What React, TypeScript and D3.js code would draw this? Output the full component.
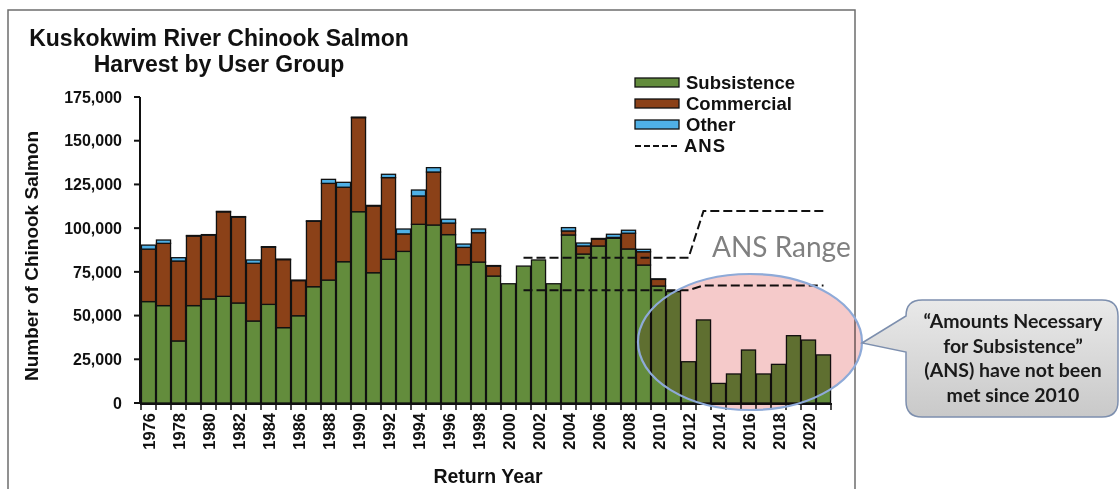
import React from "react";
import * as d3 from "d3";

const years: number[] = d3.range(1976, 2022);
const subsistence: number[] = [
  58000, 55700, 35500, 55700, 59500, 61000, 57200, 46900, 56400, 43100,
  49900, 66500, 70300, 80800, 109400, 74500, 82200, 86700, 102200, 101800,
  96300, 79100, 80600, 72600, 68200, 78300, 81800, 68200, 96100, 85200,
  89800, 94200, 88100, 78900, 66900, 63700, 23600, 47500, 11200, 16600,
  30300, 16600, 22100, 38500, 36000, 27500,
];
const commercial: number[] = [
  30000, 35600, 45700, 39800, 36500, 48300, 49100, 33000, 32700, 38900,
  20100, 37400, 55300, 42600, 53800, 38200, 46700, 10000, 16200, 30300,
  6600, 9900, 16800, 5700, 0, 0, 0, 0, 2300, 4600,
  4000, 500, 9000, 7600, 3800, 0, 0, 0, 0, 0,
  0, 0, 0, 0, 0, 0,
];
const other: number[] = [
  2300, 1900, 1900, 300, 300, 300, 300, 1900, 300, 300,
  300, 300, 2300, 2800, 300, 300, 1900, 2800, 3400, 2500,
  2200, 1900, 2100, 300, 0, 0, 0, 0, 1900, 1700,
  300, 1800, 1700, 1400, 300, 0, 0, 0, 0, 0,
  0, 0, 0, 0, 0, 0,
];
const ansYears: number[] = [2001, 2012, 2013, 2021];
const ansLow: number[] = [64500, 64500, 67200, 67200];
const ansHigh: number[] = [83000, 83000, 109800, 109800];
const yTicks: number[] = [0, 25000, 50000, 75000, 100000, 125000, 150000, 175000];
const seriesNames = ["Subsistence", "Commercial", "Other"];
const seriesColors = ["#638c3c", "#8b4118", "#4fb0e6"];
const calloutLines = ["\u201CAmounts Necessary", "for Subsistence\u201D", "(ANS) have not been", "met since 2010"];

export default function App() {
  const x = d3.scaleBand<number>().domain(years).range([141, 831]).paddingInner(0.06).paddingOuter(0.03);
  const y = d3.scaleLinear().domain([0, 175000]).range([403, 97]);
  const table = years.map((yr, i) => ({ year: yr, Subsistence: subsistence[i], Commercial: commercial[i], Other: other[i] }));
  const stack = d3.stack<any>().keys(seriesNames)(table);
  const fmt = d3.format(",");
  const cx = (yr: number) => (x(yr) as number) + x.bandwidth() / 2;
  const line = d3.line<number>().x((_, i) => cx(ansYears[i])).y((d) => y(d));
  const step = x.step();
  const boundaries = d3.range(years.length + 1).map((i) => 141 + i * step);

  const bx0 = 906, by0 = 300, bx1 = 1118, by1 = 417, r = 16;
  const callout = `M${bx0 + r},${by0} H${bx1 - r} Q${bx1},${by0} ${bx1},${by0 + r} V${by1 - r} Q${bx1},${by1} ${bx1 - r},${by1} H${bx0 + r} Q${bx0},${by1} ${bx0},${by1 - r} V352 L862,343 L${bx0},316 V${by0 + r} Q${bx0},${by0} ${bx0 + r},${by0} Z`;

  const arial = "'Liberation Sans', Arial, sans-serif";
  const cal = "Lato, 'Open Sans', sans-serif";

  return (
    <svg width={1120} height={489} style={{ position: "absolute", left: 0, top: 0, background: "#fff" }}>
      <defs>
        <linearGradient id="cg" x1="0" y1="0" x2="0" y2="1">
          <stop offset="0" stopColor="#e9e9e9" />
          <stop offset="1" stopColor="#c9c9c9" />
        </linearGradient>
      </defs>
      <path d="M8,495 V10 H855 V495" fill="none" stroke="#6e6e6e" strokeWidth={1.5} />

      <text x={219} y={46} textAnchor="middle" fontFamily={arial} fontWeight="bold" fontSize={23} fill="#111">Kuskokwim River Chinook Salmon</text>
      <text x={219} y={72} textAnchor="middle" fontFamily={arial} fontWeight="bold" fontSize={23} fill="#111">Harvest by User Group</text>

      {stack.map((s, si) => (
        <g key={si}>
          {s.map((d, i) => (d[1] - d[0] > 0 ? (
            <rect key={i} x={x(years[i])} y={y(d[1])} width={x.bandwidth()} height={y(d[0]) - y(d[1])}
              fill={seriesColors[si]} stroke="#111" strokeWidth={1.3} />
          ) : null))}
        </g>
      ))}

      <line x1={140} x2={140} y1={97} y2={404} stroke="#111" strokeWidth={2} />
      {yTicks.map((t) => (
        <g key={t}>
          <line x1={134} x2={140} y1={y(t)} y2={y(t)} stroke="#111" strokeWidth={2} />
          <text x={122} y={y(t)} dy="0.36em" textAnchor="end" fontFamily={arial} fontWeight="bold" fontSize={16} fill="#111">{fmt(t)}</text>
        </g>
      ))}
      <text transform="translate(38,256) rotate(-90)" textAnchor="middle" fontFamily={arial} fontWeight="bold" fontSize={19} fill="#111">Number of Chinook Salmon</text>

      <line x1={140} x2={832} y1={404} y2={404} stroke="#111" strokeWidth={2} />
      {boundaries.map((b, i) => (
        <line key={i} x1={b} x2={b} y1={404} y2={410} stroke="#111" strokeWidth={1.5} />
      ))}
      {years.filter((yr) => yr % 2 === 0).map((yr) => (
        <text key={yr} transform={`translate(${cx(yr) + 6},${413}) rotate(-90)`} textAnchor="end" fontFamily={arial} fontWeight="bold" fontSize={16.5} fill="#111">{yr}</text>
      ))}
      <text x={488} y={483} textAnchor="middle" fontFamily={arial} fontWeight="bold" fontSize={19.5} fill="#111">Return Year</text>

      <path d={line(ansHigh) as string} fill="none" stroke="#111" strokeWidth={2} strokeDasharray="9,4" />
      <path d={line(ansLow) as string} fill="none" stroke="#111" strokeWidth={2} strokeDasharray="9,4" />
      <text x={712} y={257} fontFamily={cal} fontSize={28} fill="#808080">ANS Range</text>

      {seriesNames.map((n, i) => (
        <g key={n}>
          <rect x={635} y={78 + i * 21} width={44} height={9} fill={seriesColors[i]} stroke="#111" strokeWidth={1.3} />
          <text x={686} y={89 + i * 21} fontFamily={arial} fontWeight="bold" fontSize={18.5} fill="#111">{n}</text>
        </g>
      ))}
      <line x1={635} x2={680} y1={146} y2={146} stroke="#111" strokeWidth={2} strokeDasharray="6,3" />
      <text x={684} y={152} fontFamily={arial} fontWeight="bold" fontSize={18.5} fill="#111" letterSpacing={1}>ANS</text>

      <ellipse cx={750} cy={342} rx={112} ry={68} fill="#f5caca" style={{ mixBlendMode: "multiply" }} />
      <ellipse cx={750} cy={342} rx={112} ry={68} fill="none" stroke="#8eaad8" strokeWidth={2.2} />

      <path d={callout} fill="url(#cg)" stroke="#7d8fae" strokeWidth={1.5} />
      {calloutLines.map((t, i) => (
        <text key={i} x={1013} y={328 + i * 24.5} textAnchor="middle" fontFamily={cal} fontWeight="bold" fontSize={19.5} fill="#1a1a1a">{t}</text>
      ))}
    </svg>
  );
}
